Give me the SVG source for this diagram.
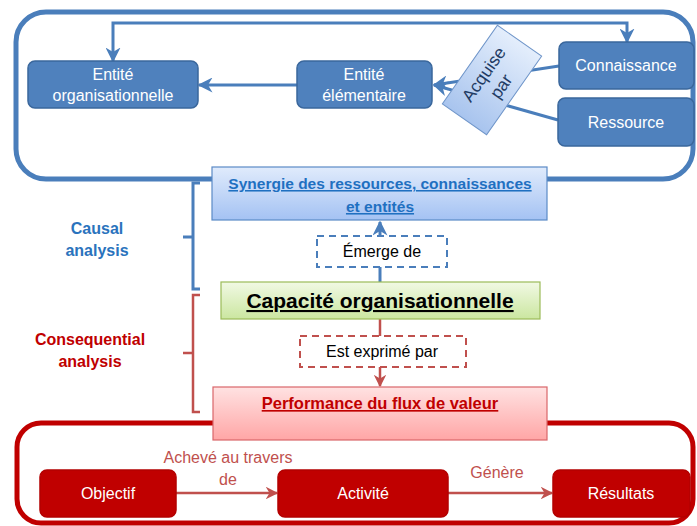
<svg xmlns="http://www.w3.org/2000/svg" width="697" height="526" viewBox="0 0 697 526">
<style>
text{font-family:"Liberation Sans",Arial,sans-serif}
.bn{fill:#4f81bd;stroke:#3a679c;stroke-width:1.5}
.rn{fill:#c00000;stroke:#b30000;stroke-width:1.5}
.wt{fill:#fff;font-size:16px;text-anchor:middle}
.bc{fill:none;stroke:#4a7ebb;stroke-width:3}
.rc{fill:none;stroke:#c0504d;stroke-width:2.5}
.dash{fill:#fff;stroke-width:2;stroke-dasharray:7,5}
.lbl{font-size:16px;text-anchor:middle}
</style>
<defs>
<linearGradient id="gBlue" x1="0" y1="0" x2="0" y2="1"><stop offset="0" stop-color="#e0ebfc"/><stop offset="1" stop-color="#a4c2f3"/></linearGradient>
<linearGradient id="gAcq" x1="0" y1="0" x2="1" y2="0"><stop offset="0" stop-color="#a8c4ee"/><stop offset="1" stop-color="#e4eefc"/></linearGradient>
<linearGradient id="gGreen" x1="0" y1="0" x2="0" y2="1"><stop offset="0" stop-color="#f1f9e4"/><stop offset="1" stop-color="#cbe6a0"/></linearGradient>
<linearGradient id="gRed" x1="0" y1="0" x2="0" y2="1"><stop offset="0" stop-color="#ffe2e2"/><stop offset="1" stop-color="#ffa6a6"/></linearGradient>
<marker id="aB" viewBox="0 0 10 10" refX="9" refY="5" markerWidth="5" markerHeight="5" orient="auto-start-reverse" markerUnits="strokeWidth"><path d="M0,0 L10,5 L0,10 L3,5 Z" fill="#4a7ebb"/></marker>
<marker id="aR" viewBox="0 0 10 10" refX="9" refY="5" markerWidth="5" markerHeight="5" orient="auto" markerUnits="strokeWidth"><path d="M0,0 L10,5 L0,10 L3,5 Z" fill="#c0504d"/></marker>
</defs>

<!-- containers -->
<rect id="blueContainer" x="16" y="12" width="677" height="167" rx="30" fill="none" stroke="#4a7ebb" stroke-width="5"/>
<rect id="redContainer" x="17" y="423" width="676" height="100" rx="24" fill="none" stroke="#c00000" stroke-width="5"/>

<!-- connectors -->
<g id="connectors">
<path class="bc" d="M627,42 V23 H113 V61" marker-start="url(#aB)" marker-end="url(#aB)"/>
<path class="bc" d="M297,85 H199" marker-end="url(#aB)"/>
<path class="bc" d="M559,66 L434,85" marker-end="url(#aB)"/>
<path class="bc" d="M558,120 L434,85" marker-end="url(#aB)"/>
<path class="bc" d="M380,282 V222" marker-end="url(#aB)"/>
<path class="rc" d="M380,319 V386" marker-end="url(#aR)"/>
<path class="rc" d="M176,493 H277" marker-end="url(#aR)"/>
<path class="rc" d="M448,493 H552" marker-end="url(#aR)"/>
<path class="bc" d="M200,183 H193 V289 H200 M193,237 H183"/>
<path class="rc" d="M200,295 H193 V412 H200 M193,353 H183"/>
</g>

<!-- top nodes -->
<g id="entiteOrg"><rect class="bn" x="28" y="61" width="170" height="47" rx="7"/><text class="wt" x="113" y="80">Entité</text><text class="wt" x="113" y="101">organisationnelle</text></g>
<g id="entiteElem"><rect class="bn" x="297" y="61" width="135" height="47" rx="7"/><text class="wt" x="364" y="80">Entité</text><text class="wt" x="364" y="101">élémentaire</text></g>
<g id="connaissance"><rect class="bn" x="559" y="42" width="135" height="47" rx="7"/><text class="wt" x="626" y="71">Connaissance</text></g>
<g id="ressource"><rect class="bn" x="558" y="98" width="136" height="48" rx="7"/><text class="wt" x="626" y="128">Ressource</text></g>
<g id="acquisePar" transform="translate(492,80) rotate(-55)"><rect x="-48" y="-27" width="96" height="54" fill="url(#gAcq)" stroke="#6f95c9" stroke-width="1"/><text x="0" y="-4" font-size="17.5" fill="#1f3b63" text-anchor="middle">Acquise</text><text x="0" y="17" font-size="17.5" fill="#1f3b63" text-anchor="middle">par</text></g>

<!-- middle -->
<g id="synergie"><rect x="212" y="167" width="335" height="53" fill="url(#gBlue)" stroke="#5b8ac6" stroke-width="1.2"/><text x="380" y="189" font-size="15.5" font-weight="bold" fill="#1f70c1" text-anchor="middle" text-decoration="underline">Synergie des ressources, connaissances</text><text x="380" y="212" font-size="15.5" font-weight="bold" fill="#1f70c1" text-anchor="middle" text-decoration="underline">et entités</text></g>
<g id="emergeDe"><rect class="dash" x="317" y="236" width="130" height="31" stroke="#4a7ebb"/><text class="lbl" x="382" y="257" fill="#000">Émerge de</text></g>
<g id="capacite"><rect x="221" y="282" width="319" height="37" fill="url(#gGreen)" stroke="#9bbb59" stroke-width="1.2"/><text x="380" y="308" font-size="21" font-weight="bold" fill="#000" text-anchor="middle" text-decoration="underline">Capacité organisationnelle</text></g>
<g id="estExprime"><rect class="dash" x="300" y="336" width="166" height="31" stroke="#c0504d"/><text class="lbl" x="382" y="357" fill="#000" font-size="16.5">Est exprimé par</text></g>
<g id="performance"><rect x="213" y="387" width="334" height="53" fill="url(#gRed)" stroke="#d9666a" stroke-width="1.2"/><text x="380" y="409" font-size="16.5" font-weight="bold" fill="#c00000" text-anchor="middle" text-decoration="underline">Performance du flux de valeur</text></g>

<g id="causal"><text x="97" y="234" font-size="16" font-weight="bold" fill="#2a73bd" text-anchor="middle">Causal</text><text x="97" y="256" font-size="16" font-weight="bold" fill="#2a73bd" text-anchor="middle">analysis</text></g>
<g id="consequential"><text x="90" y="345" font-size="16" font-weight="bold" fill="#c00000" text-anchor="middle">Consequential</text><text x="90" y="367" font-size="16" font-weight="bold" fill="#c00000" text-anchor="middle">analysis</text></g>

<!-- bottom -->
<g id="objectif"><rect class="rn" x="40" y="470" width="136" height="47" rx="7"/><text class="wt" x="108" y="499">Objectif</text></g>
<g id="activite"><rect class="rn" x="278" y="470" width="170" height="47" rx="7"/><text class="wt" x="363" y="499">Activité</text></g>
<g id="resultats"><rect class="rn" x="553" y="470" width="137" height="47" rx="7"/><text class="wt" x="621" y="499">Résultats</text></g>
<text class="lbl" x="228" y="463" fill="#c0504d">Achevé au travers</text>
<text class="lbl" x="228" y="485" fill="#c0504d">de</text>
<text class="lbl" x="497" y="478" fill="#c0504d">Génère</text>
</svg>
